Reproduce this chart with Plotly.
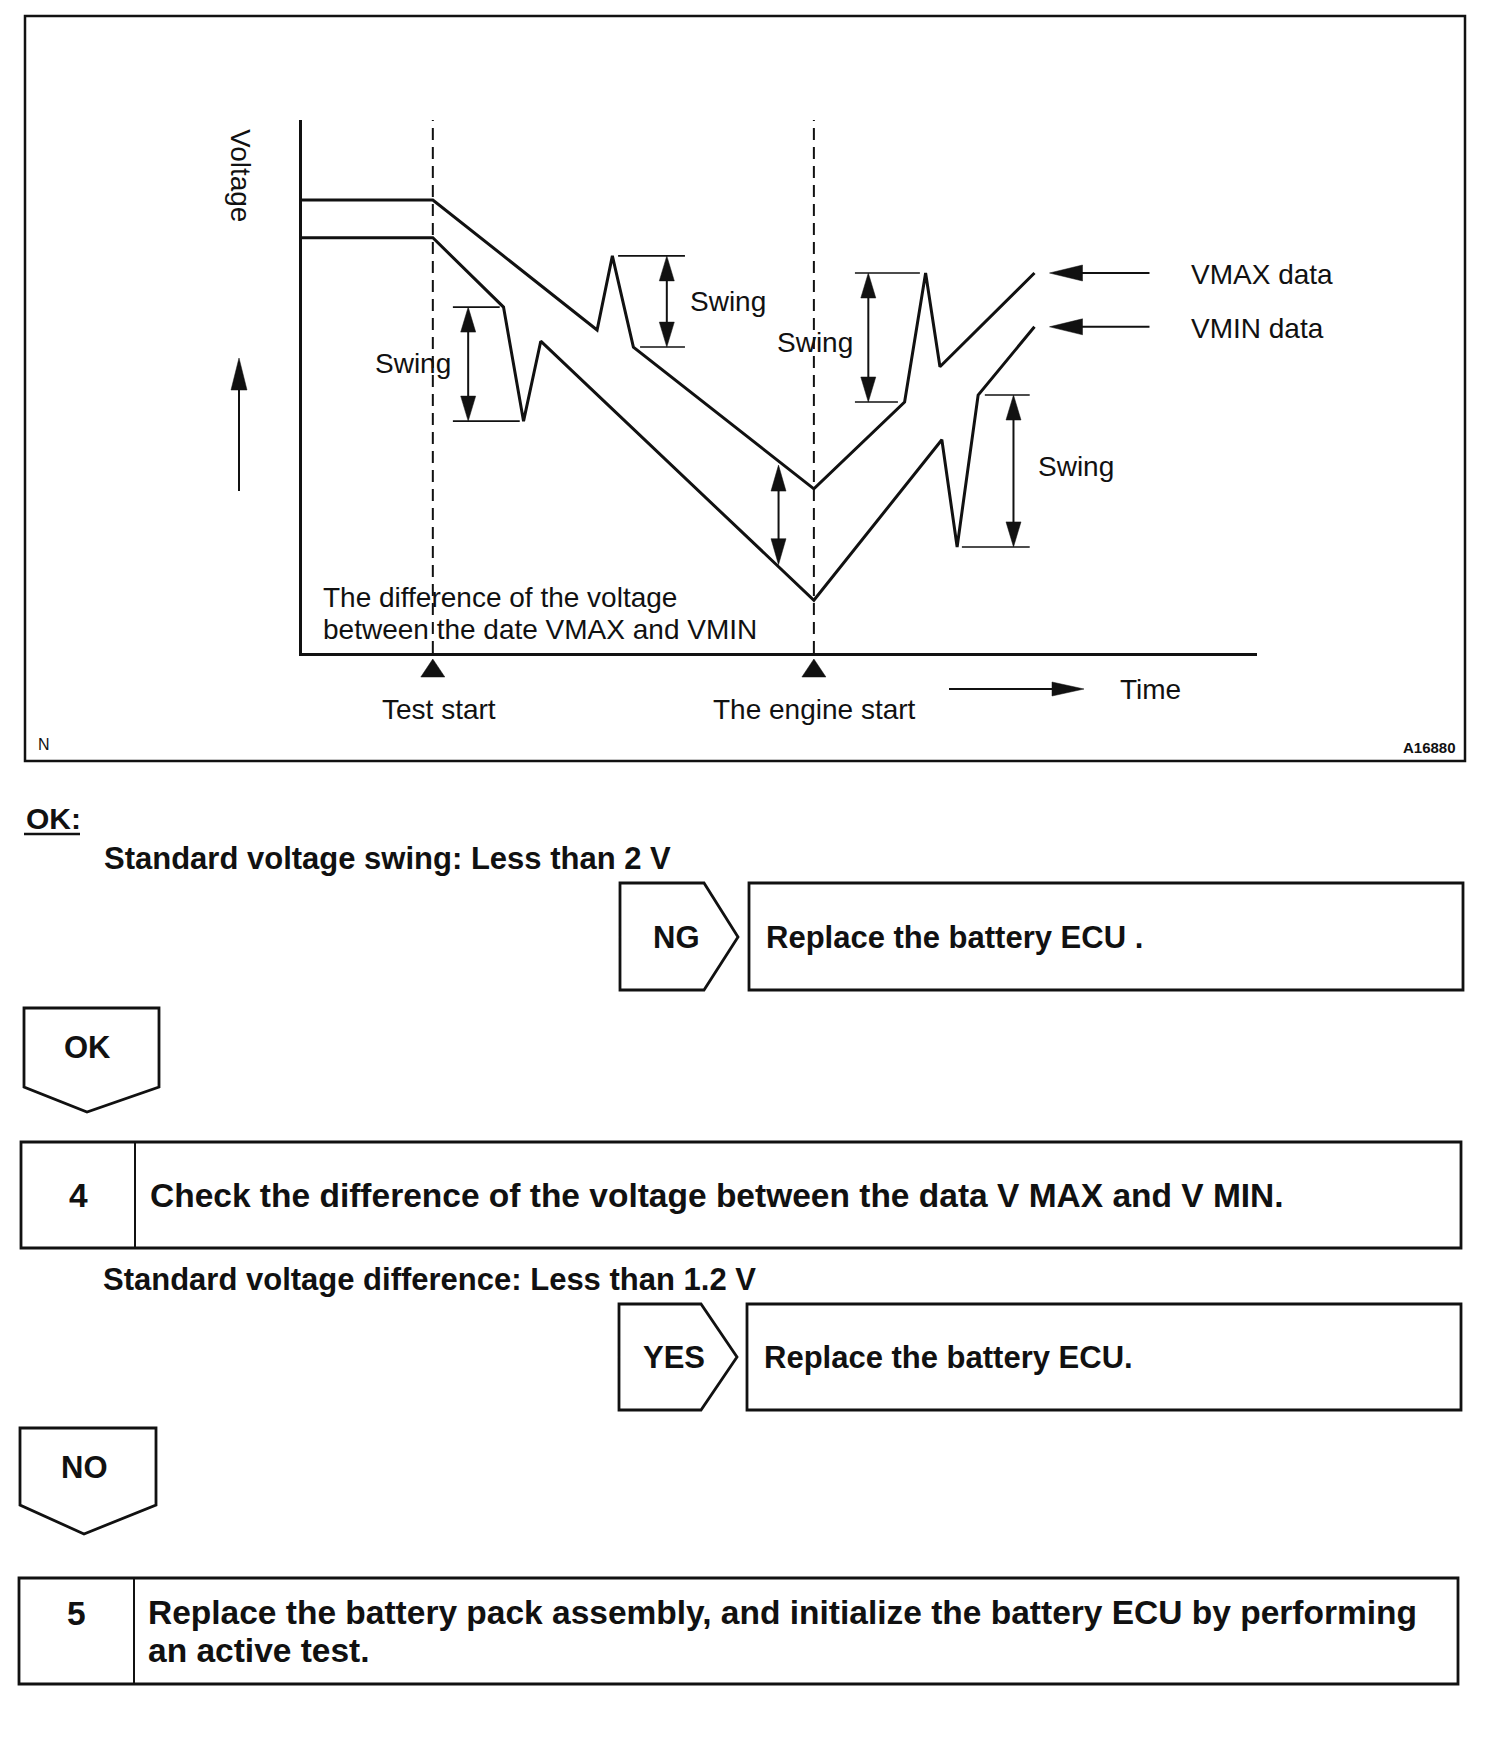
import numpy as np
import plotly.graph_objects as go

W, H = 1504, 1740
OFF = 8                     # default page margin of the html body
FW, FH = W - OFF, H - OFF   # figure size so that page pixels map 1:1

# ---------------- chart data (time 0-100 arbitrary units, voltage 0-10 arbitrary units) ----------------
vmax_time = [0, 13.7, 30.9, 32.5, 34.7, 53.6, 63.1, 65.3, 66.8, 76.7]
vmax_volt = [8.50, 8.50, 6.06, 7.45, 5.74, 3.08, 4.71, 7.13, 5.37, 7.13]
vmin_time = [0, 13.7, 21.1, 23.2, 25.0, 53.6, 67.0, 68.6, 70.8, 76.7]
vmin_volt = [7.79, 7.79, 6.49, 4.35, 5.85, 0.99, 4.00, 1.99, 4.84, 6.12]
series_labels = ["VMAX data", "VMIN data"]

event_time = [13.7, 53.6]
event_labels = ["Test start", "The engine start"]

swing_arrow_t = [17.4, 38.2, 59.3, 74.5]
swing_low_v = [4.35, 5.74, 4.71, 1.99]
swing_high_v = [6.49, 7.45, 7.13, 4.84]
swing_low_t0 = [15.8, 35.4, 57.9, 69.1]
swing_low_t1 = [22.8, 40.1, 62.4, 76.2]
swing_high_t0 = [15.8, 33.1, 57.9, 71.5]
swing_high_t1 = [20.7, 40.1, 64.7, 76.2]
swing_label_t = [11.6, 44.6, 53.7, 81.0]
swing_label_v = [5.44, 6.59, 5.82, 3.49]
diff_time = 49.9
diff_label = ["The difference of the voltage", "between the date VMAX and VMIN"]

# ---------------- flow-chart text ----------------
ok_title = "OK:"
std_swing = "Standard voltage swing: Less than 2 V"
ng_label = "NG"
ng_action = "Replace the battery ECU ."
ok_label = "OK"
step4_num = "4"
step4_text = "Check the difference of the voltage between the data V MAX and V MIN."
std_diff = "Standard voltage difference: Less than 1.2 V"
yes_label = "YES"
yes_action = "Replace the battery ECU."
no_label = "NO"
step5_num = "5"
step5_lines = ["Replace the battery pack assembly, and initialize the battery ECU by performing",
               "an active test."]

# ---------------- geometry ----------------
X0, X1 = 302, 1257      # page pixel of t=0, t=100
Y0, Y1 = 653, 120       # page pixel of v=0, v=10
T_MAX, V_MAX = 100.0, 10.0


def px(t):
    return X0 + t / T_MAX * (X1 - X0)


def py(v):
    return Y0 - v / V_MAX * (Y0 - Y1)


FONT = "Liberation Sans, Arial, Helvetica, sans-serif"
BLACK = "#111111"
CH = 28        # chart text size
BODY = 31      # flow text size
STEP = 33.5    # step box text size

fig = go.Figure()
shapes = []
annots = []


def line(x0, y0, x1, y1, w=2.0, ref=("x", "y"), dash=None):
    d = dict(type="line", x0=x0, y0=y0, x1=x1, y1=y1, xref=ref[0], yref=ref[1],
             line=dict(color=BLACK, width=w), layer="above")
    if dash:
        d["line"]["dash"] = dash
    shapes.append(d)


def poly(pts, w=2.5, fill=None):
    path = "M" + " L".join(f"{a:.1f},{b:.1f}" for a, b in pts) + " Z"
    shapes.append(dict(type="path", path=path, xref="x", yref="y",
                       line=dict(color=BLACK, width=w),
                       fillcolor=fill if fill else "rgba(0,0,0,0)", layer="above"))


def head(tx, ty, dx, dy, length, width):
    n = (dx * dx + dy * dy) ** 0.5
    dx, dy = dx / n, dy / n
    bx, by = tx - dx * length, ty - dy * length
    ppx, ppy = -dy * width / 2, dx * width / 2
    poly([(tx, ty), (bx + ppx, by + ppy), (bx - ppx, by - ppy)], w=0.5, fill=BLACK)


def arrow(x0, y0, x1, y1, length, width, w=2.0, both=False):
    dx, dy = x1 - x0, y1 - y0
    n = (dx * dx + dy * dy) ** 0.5
    ux, uy = dx / n, dy / n
    sx, sy = (x0 + ux * length * 0.8, y0 + uy * length * 0.8) if both else (x0, y0)
    line(sx, sy, x1 - ux * length * 0.8, y1 - uy * length * 0.8, w=w)
    head(x1, y1, ux, uy, length, width)
    if both:
        head(x0, y0, -ux, -uy, length, width)


def rect(x0, y0, x1, y1, w):
    shapes.append(dict(type="rect", x0=x0, y0=y0, x1=x1, y1=y1, xref="x", yref="y",
                       line=dict(color=BLACK, width=w), layer="above"))


def text(x, y, s, size=CH, bold=False, xanchor="center", ref=("x", "y"), angle=0):
    annots.append(dict(x=x, y=y, xref=ref[0], yref=ref[1], text=f"<b>{s}</b>" if bold else s,
                       showarrow=False, xanchor=xanchor, yanchor="middle", textangle=angle,
                       font=dict(family=FONT, size=size, color=BLACK)))


# ---------------- chart ----------------
fig.add_trace(go.Scatter(x=vmax_time, y=vmax_volt, mode="lines", xaxis="x2", yaxis="y2",
                         line=dict(color=BLACK, width=3), name=series_labels[0], hoverinfo="skip"))
fig.add_trace(go.Scatter(x=vmin_time, y=vmin_volt, mode="lines", xaxis="x2", yaxis="y2",
                         line=dict(color=BLACK, width=3), name=series_labels[1], hoverinfo="skip"))

rect(25, 16, 1465, 761, 2.5)

for t, lab in zip(event_time, event_labels):
    line(t, 0, t, V_MAX, w=2, ref=("x2", "y2"), dash="12px,7px")
    head(px(t), 659, 0, -1, 18, 24)
    text(px(t) + (6 if lab == "Test start" else 1), 709, lab)

for i in range(len(swing_arrow_t)):
    line(swing_low_t0[i], swing_low_v[i], swing_low_t1[i], swing_low_v[i], w=1.6, ref=("x2", "y2"))
    line(swing_high_t0[i], swing_high_v[i], swing_high_t1[i], swing_high_v[i], w=1.6, ref=("x2", "y2"))
    xa = px(swing_arrow_t[i])
    arrow(xa, py(swing_low_v[i]), xa, py(swing_high_v[i]), 25, 15, w=2, both=True)
    text(swing_label_t[i], swing_label_v[i], "Swing", ref=("x2", "y2"))

d_hi = float(np.interp(diff_time, vmax_time, vmax_volt))
d_lo = float(np.interp(diff_time, vmin_time, vmin_volt))
arrow(px(diff_time), py(d_lo) - 2, px(diff_time), py(d_hi) + 4, 26, 15, w=2, both=True)
# two lines in one text block; line pitch follows the base font size
annots.append(dict(x=321, y=613, xref="x", yref="y", showarrow=False, xanchor="left",
                   yanchor="middle", align="left",
                   text=f"<span style='font-size:{CH}px'>{diff_label[0]}</span><br>"
                        f"<span style='font-size:{CH}px'>{diff_label[1]}</span>",
                   font=dict(family=FONT, size=24.8, color=BLACK)))

for tt, vv, lab in [(vmax_time[-1], vmax_volt[-1], series_labels[0]),
                    (vmin_time[-1], vmin_volt[-1], series_labels[1])]:
    tipx = px(tt) + 15
    yy = py(vv)
    arrow(tipx + 100, yy, tipx, yy, 33, 16, w=2)
    text(1189, yy + 2, lab, xanchor="left")

arrow(949, 689, 1084, 689, 32, 14, w=2)
text(1118, 689, "Time", xanchor="left")

arrow(239, 491, 239, 358, 32, 16, w=2)
text(241, 175, "Voltage", angle=90)

text(44, 744, "N", size=16)
text(1458, 747, "A16880", size=15, bold=True, xanchor="right")

# ---------------- flow chart ----------------
BW = 2.8
text(24, 818, ok_title, size=30, bold=True, xanchor="left")
line(24, 834, 80, 834, w=2.5)
text(102, 858, std_swing, size=BODY, bold=True, xanchor="left")

poly([(620, 883), (704, 883), (738, 937), (704, 990), (620, 990)], w=BW)
text(676, 937, ng_label, size=BODY, bold=True)
rect(749, 883, 1463, 990, BW)
text(764, 937, ng_action, size=BODY, bold=True, xanchor="left")

poly([(24, 1008), (159, 1008), (159, 1087), (87, 1112), (24, 1087)], w=BW)
text(87, 1047, ok_label, size=BODY, bold=True)

rect(21, 1142, 1461, 1248, BW)
line(135, 1142, 135, 1248, w=2)
text(78, 1195, step4_num, size=STEP, bold=True)
text(148, 1195, step4_text, size=STEP, bold=True, xanchor="left")

text(101, 1279, std_diff, size=BODY, bold=True, xanchor="left")

poly([(619, 1304), (701, 1304), (737, 1357), (701, 1410), (619, 1410)], w=BW)
text(674, 1357, yes_label, size=BODY, bold=True)
rect(747, 1304, 1461, 1410, BW)
text(762, 1357, yes_action, size=BODY, bold=True, xanchor="left")

poly([(20, 1428), (156, 1428), (156, 1505), (84, 1534), (20, 1505)], w=BW)
text(84, 1467, no_label, size=BODY, bold=True)

rect(19, 1578, 1458, 1684, BW)
line(134, 1578, 134, 1684, w=2)
text(76, 1613, step5_num, size=STEP, bold=True)
# two lines in one text block; line pitch follows the base font size
annots.append(dict(x=146, y=1631, xref="x", yref="y", showarrow=False, xanchor="left",
                   yanchor="middle", align="left",
                   text=f"<b><span style='font-size:{STEP}px'>{step5_lines[0]}</span><br>"
                        f"<span style='font-size:{STEP}px'>{step5_lines[1]}</span></b>",
                   font=dict(family=FONT, size=29.4, color=BLACK)))

hidden = dict(showgrid=False, zeroline=False, showticklabels=False, ticks="", showline=False)
fig.update_layout(
    width=FW, height=FH, margin=dict(l=0, r=0, t=0, b=0, pad=0),
    paper_bgcolor="white", plot_bgcolor="rgba(0,0,0,0)", showlegend=False,
    xaxis=dict(range=[OFF, W], domain=[0, 1], **hidden),
    yaxis=dict(range=[H, OFF], domain=[0, 1], **hidden),
    xaxis2=dict(range=[0, T_MAX], domain=[(X0 - OFF) / FW, (X1 - OFF) / FW], anchor="y2",
                showgrid=False, zeroline=False, showticklabels=False, ticks="",
                showline=True, linecolor=BLACK, linewidth=3),
    yaxis2=dict(range=[0, V_MAX], domain=[(H - Y0) / FH, (H - Y1) / FH], anchor="x2",
                showgrid=False, zeroline=False, showticklabels=False, ticks="",
                showline=True, linecolor=BLACK, linewidth=3),
    shapes=shapes, annotations=annots,
)

fig.write_html("out.html")
